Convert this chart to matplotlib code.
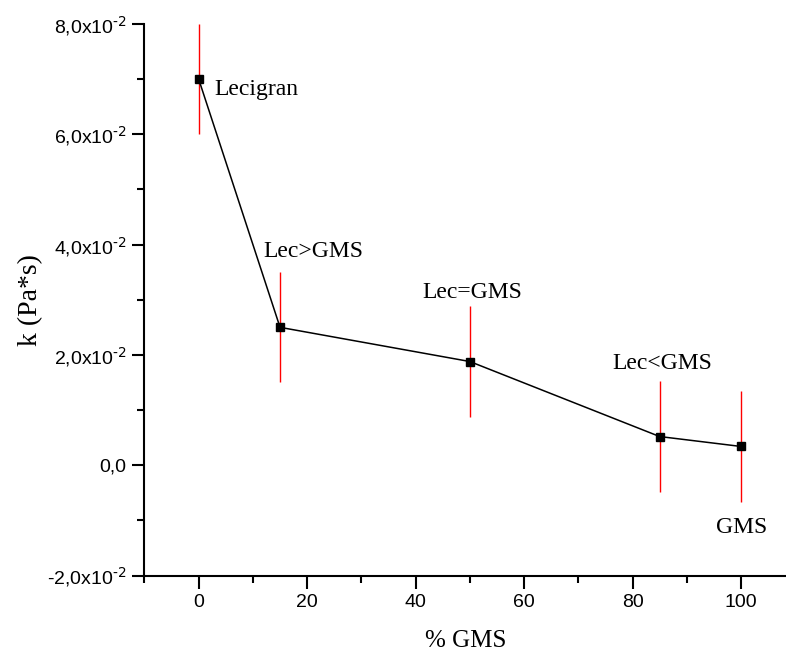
import matplotlib
matplotlib.use("Agg")
import matplotlib.pyplot as plt
from matplotlib.ticker import MultipleLocator, FixedLocator, FuncFormatter

# % GMS in the blend and consistency index k
gms_percent = [0, 15, 50, 85, 100]
k_values = [0.070, 0.025, 0.0188, 0.0052, 0.0034]
k_errors = [0.010, 0.010, 0.010, 0.010, 0.010]

# sample labels: (text, x, y, horizontal alignment)
sample_labels = [
    ("Lecigran", 2.85, 0.0671, "left"),
    ("Lec>GMS", 21.1, 0.0377, "center"),
    ("Lec=GMS", 50.4, 0.0304, "center"),
    ("Lec<GMS", 85.4, 0.0174, "center"),
    ("GMS", 100.2, -0.01235, "center"),
]

y_ticks = [-0.02, 0.0, 0.02, 0.04, 0.06, 0.08]
y_tick_labels = [r"-2,0x10$^{\text{-2}}$", "0,0", r"2,0x10$^{\text{-2}}$",
                 r"4,0x10$^{\text{-2}}$", r"6,0x10$^{\text{-2}}$",
                 r"8,0x10$^{\text{-2}}$"]

plt.rcParams["mathtext.default"] = "regular"
plt.rcParams["font.family"] = "Liberation Sans"

fig = plt.figure(figsize=(7.86, 6.56), dpi=100)
ax = fig.add_axes([0.1838, 0.1227, 0.8162, 0.8407])

ax.errorbar(gms_percent, k_values, yerr=k_errors, fmt="none",
            ecolor="red", elinewidth=1.0, capsize=0, zorder=2)
ax.plot(gms_percent, k_values, color="black", linewidth=1.1,
        marker="s", markersize=5.5, markerfacecolor="black",
        markeredgecolor="black", zorder=3)

for text, tx, ty, ha in sample_labels:
    ax.text(tx, ty, text, ha=ha, va="baseline", fontsize=17,
            family="Liberation Serif", color="black")

ax.set_xlim(-10, 108.3)
ax.set_ylim(-0.02, 0.08)

ax.spines["top"].set_visible(False)
ax.spines["right"].set_visible(False)
for side in ("left", "bottom"):
    ax.spines[side].set_linewidth(1.5)

ax.xaxis.set_major_locator(MultipleLocator(20))
ax.xaxis.set_minor_locator(MultipleLocator(10))
ax.yaxis.set_major_locator(FixedLocator(y_ticks))
ax.yaxis.set_minor_locator(MultipleLocator(0.01))
ax.yaxis.set_major_formatter(
    FuncFormatter(lambda v, pos: y_tick_labels[min(range(len(y_ticks)),
                                                   key=lambda i: abs(y_ticks[i] - v))]))

ax.tick_params(axis="both", which="major", direction="out", length=9,
               width=1.5, labelsize=14, pad=4)
ax.tick_params(axis="both", which="minor", direction="out", length=5, width=1.5)

ax.set_xlabel("% GMS", family="Liberation Serif", fontsize=18, labelpad=14)
ax.set_ylabel("k (Pa*s)", family="Liberation Serif", fontsize=20, labelpad=3)

fig.savefig("out.png", dpi=100)
